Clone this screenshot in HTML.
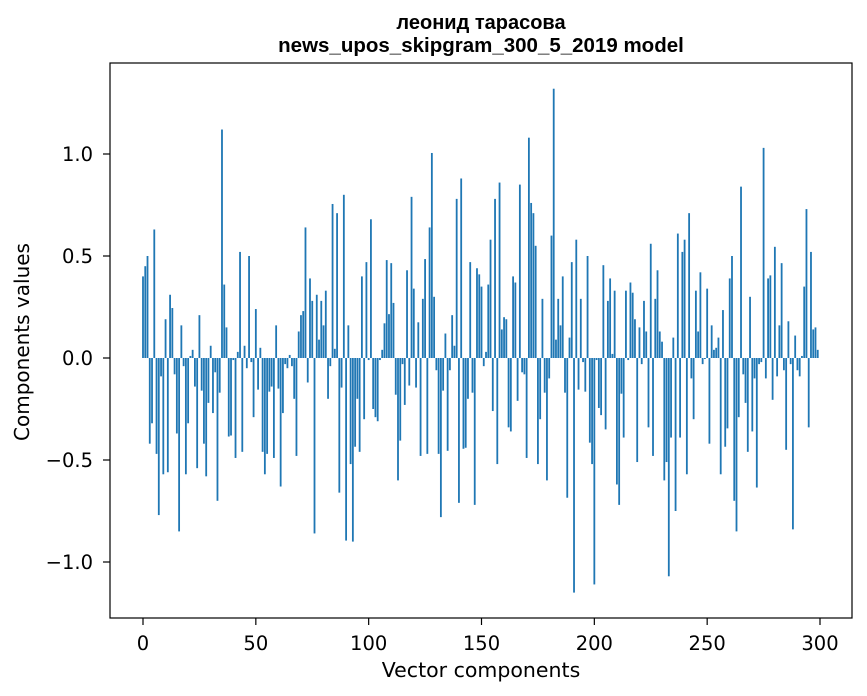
<!DOCTYPE html>
<html><head><meta charset="utf-8"><style>
body{margin:0;background:#fff;}
svg{display:block;font-family:"DejaVu Sans","Liberation Sans",sans-serif;}
</style></head><body>
<svg id="chart" width="867" height="696" xmlns="http://www.w3.org/2000/svg">
<text x="481" y="29" text-anchor="middle" font-size="20" font-weight="bold" font-family="Liberation Sans, sans-serif">леонид тарасова</text>
<text x="481" y="52" text-anchor="middle" font-size="20.5" font-weight="bold" font-family="Liberation Sans, sans-serif">news_upos_skipgram_300_5_2019 model</text>
<g id="bars"></g>
<g id="axes"></g>
<rect x="110" y="63" width="742" height="555" fill="none" stroke="#000" stroke-width="1.2"/>
<text x="481" y="677" text-anchor="middle" font-size="20.5">Vector components</text>
<text transform="translate(29,342) rotate(-90)" text-anchor="middle" font-size="20">Components values</text>
</svg>
<script>
const values = [
0.40,0.45,0.50,-0.42,-0.32,0.63,-0.47,-0.77,-0.09,-0.57,
0.19,-0.56,0.31,0.245,-0.08,-0.37,-0.85,0.16,-0.04,-0.57,
-0.32,0.01,0.04,-0.14,-0.54,0.21,-0.16,-0.42,-0.58,-0.22,
0.06,-0.27,-0.07,-0.70,-0.17,1.12,0.36,0.15,-0.385,-0.38,
-0.01,-0.49,0.03,0.52,-0.46,0.06,-0.05,0.50,-0.02,-0.29,
0.24,-0.155,0.05,-0.46,-0.57,-0.47,-0.165,-0.14,-0.49,0.16,
-0.15,-0.63,-0.27,-0.03,-0.05,0.015,-0.04,-0.20,-0.48,0.13,
0.21,0.23,0.64,-0.12,0.39,0.28,-0.86,0.31,0.09,0.28,
0.16,0.33,-0.20,-0.04,0.755,0.045,0.71,-0.66,-0.145,0.80,
-0.895,0.16,-0.52,-0.90,-0.435,-0.20,-0.46,0.40,-0.30,0.47,
-0.01,0.68,-0.25,-0.29,-0.31,-0.01,0.04,0.17,0.48,0.215,
0.465,0.27,-0.18,-0.60,-0.405,-0.03,-0.23,0.43,-0.135,0.79,
0.34,-0.145,0.175,-0.48,0.29,0.485,-0.47,0.64,1.005,0.30,
-0.06,-0.47,-0.78,-0.16,0.12,-0.455,-0.06,0.21,0.06,0.78,
-0.71,0.88,-0.445,-0.44,-0.20,0.47,-0.17,-0.72,0.44,0.41,
0.35,-0.04,0.03,0.36,0.58,-0.26,0.78,-0.52,0.86,0.14,
0.20,0.19,-0.34,-0.36,0.40,0.37,-0.21,0.85,-0.07,-0.08,
-0.49,1.08,0.76,0.71,0.55,-0.52,-0.30,0.29,-0.17,-0.60,
-0.10,0.60,1.32,0.09,0.29,0.16,0.40,-0.17,-0.685,0.10,
0.47,-1.15,0.58,-0.155,0.29,-0.02,-0.165,0.50,-0.415,-0.52,
-1.11,-0.01,-0.245,-0.28,0.455,-0.35,0.28,0.39,0.02,0.33,
-0.62,-0.72,-0.175,-0.39,0.33,-0.01,0.37,0.32,0.19,-0.51,
0.15,-0.03,0.28,0.13,-0.34,0.56,-0.48,0.29,0.43,0.13,
0.08,-0.60,-0.51,-1.07,-0.39,0.10,-0.75,0.61,-0.39,0.52,
0.58,-0.57,0.71,-0.10,-0.30,0.33,0.13,0.42,-0.03,-0.005,
0.34,-0.42,0.16,0.04,0.05,0.10,-0.57,0.235,-0.435,-0.345,
0.39,0.50,-0.70,-0.85,-0.29,0.84,-0.08,-0.22,-0.46,0.30,
-0.36,-0.10,-0.635,-0.03,-0.02,1.03,-0.10,0.39,0.405,-0.205,
0.545,-0.09,0.16,0.465,-0.06,-0.45,0.18,-0.03,-0.84,0.11,
-0.06,-0.09,0.01,0.35,0.73,-0.34,0.52,0.14,0.15,0.04
];
const xTicks = [0,50,100,150,200,250,300];
const yTicks = [-1.0,-0.5,0.0,0.5,1.0];
const yTickLabels = ["\u22121.0","\u22120.5","0.0","0.5","1.0"];

const NS="http://www.w3.org/2000/svg";
function xScale(i){return 143+i*(677/300);}
function yScale(v){return 358-204*v;}
const bw=0.8*(677/300);
const bars=document.getElementById('bars');
values.forEach((v,i)=>{
  const r=document.createElementNS(NS,'rect');
  const y0=yScale(0),y1=yScale(v);
  r.setAttribute('x',xScale(i)-bw/2);
  r.setAttribute('y',Math.min(y0,y1));
  r.setAttribute('width',bw);
  r.setAttribute('height',Math.max(Math.abs(y1-y0),0.3));
  r.setAttribute('fill','#1f77b4');
  
  
  bars.appendChild(r);
});
const axes=document.getElementById('axes');
xTicks.forEach(t=>{
  const x=xScale(t);
  const l=document.createElementNS(NS,'line');
  l.setAttribute('x1',x);l.setAttribute('x2',x);l.setAttribute('y1',618);l.setAttribute('y2',625);
  l.setAttribute('stroke','#000');l.setAttribute('stroke-width','1.2');
  
  
  axes.appendChild(l);
  const tx=document.createElementNS(NS,'text');
  tx.setAttribute('x',x);tx.setAttribute('y',650);tx.setAttribute('text-anchor','middle');tx.setAttribute('font-size','19.5');
  tx.textContent=t;
  
  
  axes.appendChild(tx);
});
yTicks.forEach((t,k)=>{
  const y=yScale(t);
  const l=document.createElementNS(NS,'line');
  l.setAttribute('x1',103);l.setAttribute('x2',110);l.setAttribute('y1',y);l.setAttribute('y2',y);
  l.setAttribute('stroke','#000');l.setAttribute('stroke-width','1.2');
  
  
  axes.appendChild(l);
  const tx=document.createElementNS(NS,'text');
  tx.setAttribute('x',93);tx.setAttribute('y',y+7);tx.setAttribute('text-anchor','end');tx.setAttribute('font-size','19.5');
  tx.textContent=yTickLabels[k];
  
  
  axes.appendChild(tx);
});
</script>
</body></html>
